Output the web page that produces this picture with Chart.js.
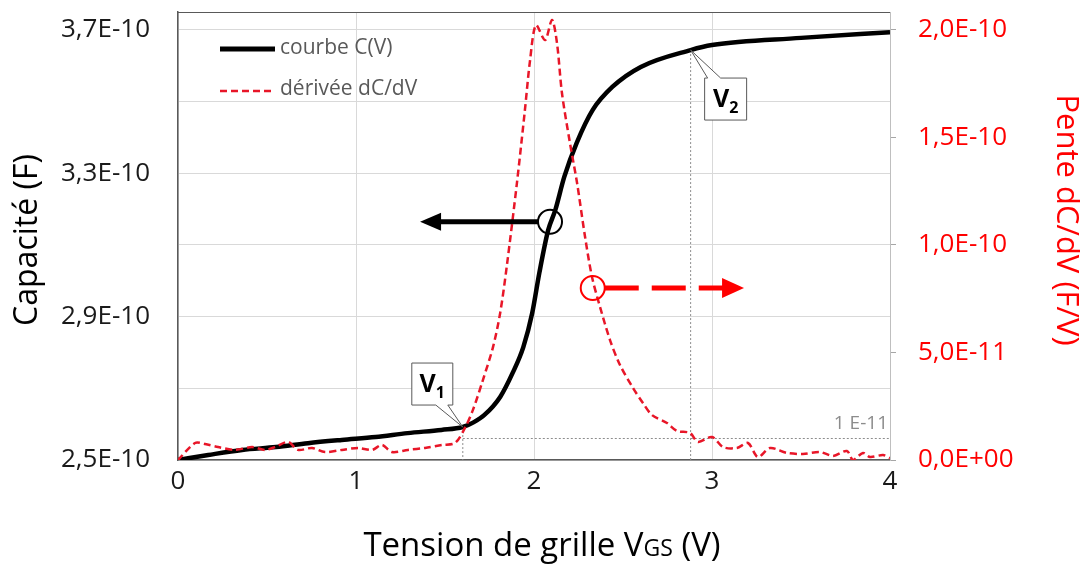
<!DOCTYPE html>
<html lang="fr">
<head>
<meta charset="utf-8">
<title>Courbe C(V) et dérivée dC/dV</title>
<script src="https://cdn.jsdelivr.net/npm/chart.js@4.4.1/dist/chart.umd.min.js"></script>
<style>
  html, body { margin: 0; padding: 0; background: #fff; }
  #wrap { width: 1088px; height: 567px; }
</style>
</head>
<body>
<div id="wrap"><canvas id="cvChart"></canvas></div>
<script>
// Courbe C(V) : tension de grille (V) et capacité (F)
const capVoltage = [0, 0.17, 0.36, 0.55, 0.73, 0.92, 1.11, 1.29, 1.48, 1.6, 1.66, 1.72, 1.81, 1.88,
  1.94, 1.99, 2.03, 2.08, 2.12, 2.17, 2.24, 2.33, 2.44, 2.6, 2.88, 3.0, 3.5, 4.0];
const capValues = [2.500e-10, 2.514e-10, 2.528e-10, 2.536e-10, 2.547e-10, 2.556e-10, 2.564e-10,
  2.575e-10, 2.584e-10, 2.592e-10, 2.605e-10, 2.625e-10, 2.676e-10, 2.743e-10, 2.815e-10,
  2.910e-10, 3.022e-10, 3.142e-10, 3.198e-10, 3.290e-10, 3.385e-10, 3.477e-10, 3.541e-10,
  3.597e-10, 3.644e-10, 3.658e-10, 3.678e-10, 3.694e-10];

// Dérivée dC/dV (F/V)
const derivVoltage = [0, 0.096, 0.152, 0.225, 0.32, 0.416, 0.489, 0.545, 0.618, 0.674, 0.753, 0.826,
  0.921, 1.011, 1.09, 1.146, 1.202, 1.292, 1.388, 1.483, 1.556, 1.612, 1.657, 1.713, 1.77, 1.81,
  1.848, 1.904, 1.949, 1.978, 2.011, 2.062, 2.101, 2.129, 2.157, 2.202, 2.242, 2.287, 2.326, 2.371,
  2.427, 2.483, 2.556, 2.612, 2.663, 2.747, 2.803, 2.876, 2.921, 3.0, 3.062, 3.14, 3.202, 3.258,
  3.326, 3.421, 3.511, 3.607, 3.68, 3.758, 3.792, 3.848, 3.888, 3.961, 4.0];
const derivValues = [0, 0.79e-11, 0.74e-11, 0.60e-11, 0.47e-11, 0.60e-11, 0.47e-11, 0.60e-11,
  0.84e-11, 0.47e-11, 0.56e-11, 0.37e-11, 0.47e-11, 0.56e-11, 0.47e-11, 0.70e-11, 0.37e-11,
  0.47e-11, 0.56e-11, 0.70e-11, 0.79e-11, 1.49e-11, 2.33e-11, 3.72e-11, 5.26e-11, 6.84e-11,
  9.07e-11, 1.288e-10, 1.628e-10, 1.860e-10, 2.023e-10, 1.953e-10, 2.047e-10, 1.940e-10,
  1.707e-10, 1.474e-10, 1.288e-10, 1.037e-10, 0.851e-10, 0.712e-10, 0.558e-10, 0.442e-10,
  0.335e-10, 0.265e-10, 0.209e-10, 0.172e-10, 0.135e-10, 0.126e-10, 0.84e-11, 1.07e-11,
  0.60e-11, 0.56e-11, 0.79e-11, 0.14e-11, 0.56e-11, 0.33e-11, 0.28e-11, 0.37e-11, 0.19e-11,
  0.42e-11, 0, 0.33e-11, 0.14e-11, 0.23e-11, 0.09e-11];

// Graduations
const xTicks = [0, 1, 2, 3, 4];
const leftTicks = [2.5e-10, 2.7e-10, 2.9e-10, 3.1e-10, 3.3e-10, 3.5e-10, 3.7e-10];
const leftTickLabels = ['2,5E-10', '', '2,9E-10', '', '3,3E-10', '', '3,7E-10'];
const rightTicks = [0, 5e-11, 1e-10, 1.5e-10, 2e-10];
const rightTickLabels = ['0,0E+00', '5,0E-11', '1,0E-10', '1,5E-10', '2,0E-10'];

// Tensions V1 / V2 et seuil de pente
const v1 = 1.6;
const v2 = 2.88;
const slopeThreshold = 1e-11;

// Repères des flèches (quel axe lire pour chaque courbe)
const capMarker = { v: 2.09, c: 3.165e-10, arrowTo: 1.36 };
const derivMarker = { v: 2.33, d: 8.0e-11, arrowTo: 3.18 };

const RED = '#ff0000';
const CURVE_RED = 'rgb(232,22,40)';
const FONT = "'Open Sans', sans-serif";

Chart.defaults.font.family = FONT;

function labelFor(list, labels, value) {
  const i = list.findIndex(v => Math.abs(v - value) < 1e-13);
  return i >= 0 ? labels[i] : '';
}

// pas de marge automatique autour des axes : la zone de tracé est fixée
function noPadding(scale) {
  scale.paddingTop = 0;
  scale.paddingBottom = 0;
  scale.paddingLeft = 0;
  scale.paddingRight = 0;
}

function arrowHead(ctx, tipX, y, dir, len, half) {
  ctx.beginPath();
  ctx.moveTo(tipX, y);
  ctx.lineTo(tipX - dir * len, y - half);
  ctx.lineTo(tipX - dir * len, y + half);
  ctx.closePath();
  ctx.fill();
}

function drawSubLabel(ctx, cx, cy, main, sub) {
  ctx.font = "bold 25px " + FONT;
  const w1 = ctx.measureText(main).width;
  ctx.font = "bold 16px " + FONT;
  const w2 = ctx.measureText(sub).width;
  const start = cx - (w1 + w2) / 2;
  ctx.fillStyle = '#000';
  ctx.textAlign = 'left';
  ctx.textBaseline = 'alphabetic';
  ctx.font = "bold 25px " + FONT;
  ctx.fillText(main, start, cy + 8);
  ctx.font = "bold 16px " + FONT;
  ctx.fillText(sub, start + w1, cy + 14);
}

const decorations = {
  id: 'decorations',
  beforeDatasetsDraw(chart) {
    const { ctx, chartArea: a, scales } = chart;
    const x = scales.x, y = scales.y, y1 = scales.y1;
    const p1x = x.getPixelForValue(v1);
    const p1y = y.getPixelForValue(capValues[capVoltage.indexOf(v1)]);
    const p2x = x.getPixelForValue(v2);
    const p2y = y.getPixelForValue(capValues[capVoltage.indexOf(v2)]);
    const thY = y1.getPixelForValue(slopeThreshold);

    ctx.save();
    ctx.strokeStyle = '#8c8c8c';
    ctx.lineWidth = 1;
    ctx.setLineDash([2, 2]);
    ctx.beginPath();
    ctx.moveTo(p1x, p1y);
    ctx.lineTo(p1x, a.bottom);
    ctx.moveTo(p2x, p2y);
    ctx.lineTo(p2x, a.bottom);
    ctx.moveTo(p1x, thY);
    ctx.lineTo(a.right, thY);
    ctx.stroke();
    ctx.setLineDash([]);

    ctx.fillStyle = '#8c8c8c';
    ctx.font = "19px " + FONT;
    ctx.textAlign = 'right';
    ctx.textBaseline = 'alphabetic';
    ctx.fillText('1 E-11', a.right - 2, thY - 9);

    // cadre haut
    ctx.strokeStyle = '#595959';
    ctx.beginPath();
    ctx.moveTo(a.left, a.top + 0.5);
    ctx.lineTo(a.right, a.top + 0.5);
    ctx.stroke();
    ctx.restore();
  },
  afterDatasetsDraw(chart) {
    const { ctx, scales } = chart;
    const x = scales.x, y = scales.y, y1 = scales.y1;
    ctx.save();

    // légende
    ctx.lineCap = 'butt';
    ctx.strokeStyle = '#000';
    ctx.lineWidth = 5;
    ctx.beginPath();
    ctx.moveTo(220, 49);
    ctx.lineTo(275, 49);
    ctx.stroke();
    ctx.strokeStyle = CURVE_RED;
    ctx.lineWidth = 2.5;
    ctx.setLineDash([7, 4]);
    ctx.beginPath();
    ctx.moveTo(220, 91);
    ctx.lineTo(275, 91);
    ctx.stroke();
    ctx.setLineDash([]);
    ctx.fillStyle = '#595959';
    ctx.font = "21px " + FONT;
    ctx.textAlign = 'left';
    ctx.textBaseline = 'middle';
    ctx.fillText('courbe C(V)', 280, 48);
    ctx.fillText('dérivée dC/dV', 280, 89);

    // flèche noire -> axe de gauche
    const cx = x.getPixelForValue(capMarker.v);
    const cy = y.getPixelForValue(capMarker.c);
    const cTip = x.getPixelForValue(capMarker.arrowTo);
    ctx.strokeStyle = '#000';
    ctx.fillStyle = '#000';
    ctx.lineWidth = 5;
    ctx.beginPath();
    ctx.moveTo(cx - 12, cy);
    ctx.lineTo(cTip + 18, cy);
    ctx.stroke();
    arrowHead(ctx, cTip, cy, -1, 21, 9);
    ctx.lineWidth = 2;
    ctx.beginPath();
    ctx.arc(cx, cy, 12, 0, Math.PI * 2);
    ctx.stroke();

    // flèche rouge -> axe de droite
    const dx = x.getPixelForValue(derivMarker.v);
    const dy = y1.getPixelForValue(derivMarker.d);
    const dTip = x.getPixelForValue(derivMarker.arrowTo);
    ctx.strokeStyle = RED;
    ctx.fillStyle = RED;
    ctx.lineWidth = 5;
    ctx.setLineDash([34, 13]);
    ctx.beginPath();
    ctx.moveTo(dx + 12, dy);
    ctx.lineTo(dTip - 20, dy);
    ctx.stroke();
    ctx.setLineDash([]);
    arrowHead(ctx, dTip, dy, 1, 22, 10);
    ctx.lineWidth = 2;
    ctx.beginPath();
    ctx.arc(dx, dy, 12, 0, Math.PI * 2);
    ctx.stroke();

    // bulles V1 et V2
    const t1x = x.getPixelForValue(v1);
    const t1y = y.getPixelForValue(capValues[capVoltage.indexOf(v1)]);
    const b1 = { l: t1x - 51, r: t1x - 10, t: t1y - 64, b: t1y - 22 };
    ctx.fillStyle = '#fff';
    ctx.strokeStyle = '#595959';
    ctx.lineWidth = 1;
    ctx.beginPath();
    ctx.moveTo(b1.l, b1.t);
    ctx.lineTo(b1.r, b1.t);
    ctx.lineTo(b1.r, b1.b);
    ctx.lineTo(t1x - 15, b1.b);
    ctx.lineTo(t1x, t1y);
    ctx.lineTo(t1x - 27, b1.b);
    ctx.lineTo(b1.l, b1.b);
    ctx.closePath();
    ctx.fill();
    ctx.stroke();
    drawSubLabel(ctx, (b1.l + b1.r) / 2, (b1.t + b1.b) / 2, 'V', '1');

    const t2x = x.getPixelForValue(v2);
    const t2y = y.getPixelForValue(capValues[capVoltage.indexOf(v2)]);
    const b2 = { l: t2x + 14, r: t2x + 56, t: t2y + 28, b: t2y + 70 };
    ctx.fillStyle = '#fff';
    ctx.strokeStyle = '#595959';
    ctx.beginPath();
    ctx.moveTo(b2.l, b2.t);
    ctx.lineTo(b2.l + 3, b2.t);
    ctx.lineTo(t2x, t2y);
    ctx.lineTo(b2.l + 16, b2.t);
    ctx.lineTo(b2.r, b2.t);
    ctx.lineTo(b2.r, b2.b);
    ctx.lineTo(b2.l, b2.b);
    ctx.closePath();
    ctx.fill();
    ctx.stroke();
    drawSubLabel(ctx, (b2.l + b2.r) / 2, (b2.t + b2.b) / 2, 'V', '2');

    ctx.restore();
  },
  afterDraw(chart) {
    const { ctx, chartArea: a } = chart;
    ctx.save();
    ctx.textBaseline = 'alphabetic';

    // titre de l'axe X avec indice "GS" réduit
    const parts = [['Tension de grille V', 33], ['GS', 23], [' (V)', 33]];
    let total = 0;
    parts.forEach(p => { ctx.font = p[1] + 'px ' + FONT; total += ctx.measureText(p[0]).width; });
    let px = (a.left + a.right) / 2 + 8 - total / 2;
    ctx.fillStyle = '#000';
    ctx.textAlign = 'left';
    parts.forEach(p => {
      ctx.font = p[1] + 'px ' + FONT;
      ctx.fillText(p[0], px, 556);
      px += ctx.measureText(p[0]).width;
    });

    // titres des axes verticaux
    ctx.textAlign = 'center';
    ctx.textBaseline = 'middle';
    ctx.font = '32px ' + FONT;
    ctx.save();
    ctx.translate(28, 240);
    ctx.rotate(-Math.PI / 2);
    ctx.fillStyle = '#000';
    ctx.fillText('Capacité (F)', 0, 0);
    ctx.restore();
    ctx.font = '31px ' + FONT;
    ctx.save();
    ctx.translate(1066, 220);
    ctx.rotate(Math.PI / 2);
    ctx.fillStyle = RED;
    ctx.fillText('Pente dC/dV (F/V)', 0, 0);
    ctx.restore();
    ctx.restore();
  }
};

const ctx = document.getElementById('cvChart').getContext('2d');
new Chart(ctx, {
  type: 'line',
  data: {
    datasets: [
      {
        label: 'dérivée dC/dV',
        data: derivVoltage.map((v, i) => ({ x: v, y: derivValues[i] })),
        yAxisID: 'y1',
        borderColor: CURVE_RED,
        borderWidth: 2.5,
        borderDash: [7, 4],
        pointRadius: 0,
        tension: 0.3,
        fill: false,
        order: 0
      },
      {
        label: 'courbe C(V)',
        data: capVoltage.map((v, i) => ({ x: v, y: capValues[i] })),
        yAxisID: 'y',
        borderColor: '#000',
        borderWidth: 4.5,
        pointRadius: 0,
        cubicInterpolationMode: 'monotone',
        fill: false,
        order: 1
      }
    ]
  },
  options: {
    responsive: true,
    maintainAspectRatio: false,
    animation: false,
    layout: { padding: { left: 0, right: 0, top: 12, bottom: 0 } },
    plugins: {
      legend: { display: false },
      tooltip: { enabled: false }
    },
    scales: {
      x: {
        type: 'linear',
        min: 0,
        max: 4,
        afterBuildTicks: scale => { scale.ticks = xTicks.map(v => ({ value: v })); },
        afterFit: scale => { scale.height = 107; noPadding(scale); },
        grid: { color: '#d9d9d9', drawTicks: false },
        border: { color: '#595959', width: 1.5 },
        ticks: { color: '#1a1a1a', font: { size: 26 }, padding: 6, callback: v => String(v) }
      },
      y: {
        position: 'left',
        min: 2.5e-10,
        max: 3.7502e-10,
        afterBuildTicks: scale => { scale.ticks = leftTicks.map(v => ({ value: v })); },
        afterFit: scale => { scale.width = 178; noPadding(scale); },
        grid: { color: '#d9d9d9', drawTicks: false },
        border: { color: '#595959', width: 1.5 },
        ticks: {
          color: '#1a1a1a',
          font: { size: 26 },
          padding: 28,
          callback: v => labelFor(leftTicks, leftTickLabels, v)
        }
      },
      y1: {
        position: 'right',
        min: 0,
        max: 2.0837e-10,
        afterBuildTicks: scale => { scale.ticks = rightTicks.map(v => ({ value: v })); },
        afterFit: scale => { scale.width = 198; noPadding(scale); },
        grid: { drawOnChartArea: false, drawTicks: true, tickLength: 6, tickColor: '#a6a6a6' },
        border: { color: '#bfbfbf', width: 1 },
        ticks: {
          color: RED,
          font: { size: 26 },
          padding: 22,
          callback: v => labelFor(rightTicks, rightTickLabels, v)
        }
      }
    }
  },
  plugins: [decorations]
});
</script>
</body>
</html>
